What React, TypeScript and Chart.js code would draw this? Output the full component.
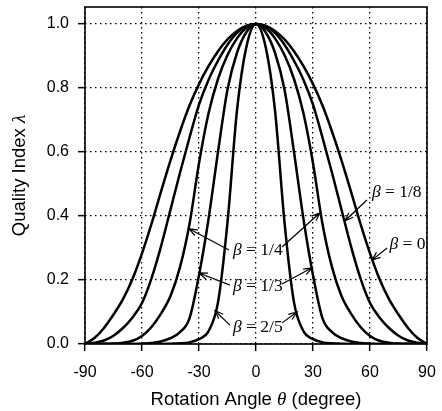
import React, { useEffect, useRef } from 'react';
import { Chart, registerables } from 'chart.js';

Chart.register(...registerables);

// Rotation angle θ (degree)
const theta = [
  -90, -85, -80, -75, -70, -65, -60, -55, -50, -45, -40, -35, -30, -25, -20, -15, -10, -5,
  0, 5, 10, 15, 20, 25, 30, 35, 40, 45, 50, 55, 60, 65, 70, 75, 80, 85, 90,
];

// Quality index λ for each β
const beta0 = [
  0, 0.019, 0.05, 0.092, 0.14, 0.203, 0.283, 0.375, 0.476, 0.574, 0.664, 0.745, 0.812, 0.868, 0.915, 0.952, 0.978, 0.995,
  1.0, 0.995, 0.978, 0.952, 0.915, 0.868, 0.812, 0.745, 0.664, 0.574, 0.476, 0.375, 0.283, 0.203, 0.14, 0.092, 0.05, 0.019, 0,
];
const beta1_8 = [
  0, 0.004, 0.011, 0.026, 0.05, 0.083, 0.128, 0.205, 0.305, 0.42, 0.535, 0.645, 0.748, 0.825, 0.885, 0.935, 0.972, 0.993,
  1.0, 0.993, 0.972, 0.935, 0.885, 0.825, 0.748, 0.645, 0.535, 0.42, 0.305, 0.205, 0.128, 0.083, 0.05, 0.026, 0.011, 0.004, 0,
];
const beta1_4 = [
  0, 0, 0.0005, 0.0015, 0.004, 0.01, 0.025, 0.053, 0.095, 0.15, 0.24, 0.375, 0.565, 0.72, 0.828, 0.903, 0.955, 0.988,
  1.0, 0.988, 0.955, 0.903, 0.828, 0.72, 0.565, 0.375, 0.24, 0.15, 0.095, 0.053, 0.025, 0.01, 0.004, 0.0015, 0.0005, 0, 0,
];
const beta1_3 = [
  0, 0, 0, 0, 0, 0, 0.001, 0.003, 0.008, 0.018, 0.037, 0.08, 0.215, 0.39, 0.6, 0.795, 0.91, 0.975,
  1.0, 0.975, 0.91, 0.795, 0.6, 0.39, 0.215, 0.08, 0.037, 0.018, 0.008, 0.003, 0.001, 0, 0, 0, 0, 0, 0,
];
const beta2_5 = [
  0, 0, 0, 0, 0, 0, 0, 0, 0, 0.001, 0.002, 0.005, 0.015, 0.04, 0.13, 0.38, 0.73, 0.93,
  1.0, 0.93, 0.73, 0.38, 0.13, 0.04, 0.015, 0.005, 0.002, 0.001, 0, 0, 0, 0, 0, 0, 0, 0, 0,
];

const seriesNames = ['β = 0', 'β = 1/8', 'β = 1/4', 'β = 1/3', 'β = 2/5'];
const seriesValues = [beta0, beta1_8, beta1_4, beta1_3, beta2_5];

const xTicks = [-90, -60, -30, 0, 30, 60, 90];
const yTicks = [0, 0.2, 0.4, 0.6, 0.8, 1.0];

// Curve labels: text, anchor (θ, λ) and arrows [tailθ, tailλ, tipθ, tipλ]
const curveLabels = [
  { text: '1/8', at: [61, 0.475], arrows: [[58.4, 0.45, 46.8, 0.385]] },
  { text: '0', at: [70.2, 0.31], arrows: [[69, 0.3, 61, 0.262]] },
  { text: '1/4', at: [-12.1, 0.294], arrows: [[13.7, 0.303, 33.7, 0.41], [-14.2, 0.294, -35.3, 0.36]] },
  { text: '1/3', at: [-12.1, 0.181], arrows: [[13.7, 0.1875, 29.5, 0.238], [-13.7, 0.184, -30, 0.222]] },
  { text: '2/5', at: [-12.1, 0.053], arrows: [[13.7, 0.066, 21.6, 0.1], [-13.7, 0.059, -21.6, 0.104]] },
];

const SANS = "'Liberation Sans', Arial, Helvetica, sans-serif";
const SERIF = "'Liberation Serif', 'Times New Roman', serif";

function drawArrow(ctx: CanvasRenderingContext2D, x1: number, y1: number, x2: number, y2: number) {
  const ang = Math.atan2(y2 - y1, x2 - x1);
  const hl = 9;
  const ha = 0.36;
  ctx.beginPath();
  ctx.moveTo(x1, y1);
  ctx.lineTo(x2, y2);
  ctx.moveTo(x2 - hl * Math.cos(ang - ha), y2 - hl * Math.sin(ang - ha));
  ctx.lineTo(x2, y2);
  ctx.lineTo(x2 - hl * Math.cos(ang + ha), y2 - hl * Math.sin(ang + ha));
  ctx.stroke();
}

const decorPlugin = {
  id: 'decor',
  afterDatasetsDraw(chart: any) {
    const { ctx, chartArea, scales } = chart;
    const xs = scales.x;
    const ys = scales.y;
    ctx.save();
    // frame
    ctx.strokeStyle = '#000';
    ctx.lineWidth = 1.6;
    ctx.setLineDash([]);
    ctx.strokeRect(chartArea.left, chartArea.top, chartArea.right - chartArea.left, chartArea.bottom - chartArea.top);

    // curve labels and arrows
    ctx.lineWidth = 1.2;
    ctx.fillStyle = '#000';
    ctx.textBaseline = 'middle';
    ctx.textAlign = 'left';
    for (const lab of curveLabels) {
      const px = xs.getPixelForValue(lab.at[0]);
      const py = ys.getPixelForValue(lab.at[1]);
      ctx.font = `italic 17.5px ${SERIF}`;
      ctx.fillText('β', px, py);
      const bw = ctx.measureText('β').width;
      ctx.font = `17.5px ${SERIF}`;
      ctx.fillText(' = ' + lab.text, px + bw, py);
      for (const a of lab.arrows) {
        drawArrow(
          ctx,
          xs.getPixelForValue(a[0]),
          ys.getPixelForValue(a[1]),
          xs.getPixelForValue(a[2]),
          ys.getPixelForValue(a[3])
        );
      }
    }

    // x title
    const xParts: [string, string][] = [
      ['Rotation Angle ', `18.5px ${SANS}`],
      ['θ', `italic 19px ${SERIF}`],
      [' (degree)', `18.5px ${SANS}`],
    ];
    let total = 0;
    for (const [t, f] of xParts) {
      ctx.font = f;
      total += ctx.measureText(t).width;
    }
    let cx = (chartArea.left + chartArea.right) / 2 - total / 2;
    ctx.textBaseline = 'alphabetic';
    for (const [t, f] of xParts) {
      ctx.font = f;
      ctx.fillText(t, cx, chartArea.bottom + 61);
      cx += ctx.measureText(t).width;
    }

    // y title
    const yParts: [string, string][] = [
      ['Quality Index ', `18.5px ${SANS}`],
      ['λ', `italic 19px ${SERIF}`],
    ];
    total = 0;
    for (const [t, f] of yParts) {
      ctx.font = f;
      total += ctx.measureText(t).width;
    }
    ctx.translate(25, (chartArea.top + chartArea.bottom) / 2);
    ctx.rotate(-Math.PI / 2);
    let cy = -total / 2;
    for (const [t, f] of yParts) {
      ctx.font = f;
      ctx.fillText(t, cy, 0);
      cy += ctx.measureText(t).width;
    }
    ctx.restore();
  },
};

export default function App() {
  const canvasRef = useRef<HTMLCanvasElement | null>(null);

  useEffect(() => {
    const canvas = canvasRef.current;
    if (!canvas) return;
    const datasets = seriesValues.map((vals, i) => ({
      label: seriesNames[i],
      data: theta.map((t, j) => ({ x: t, y: vals[j] })),
      borderColor: '#000',
      backgroundColor: '#000',
      borderWidth: 2.5,
      pointRadius: 0,
      fill: false,
      cubicInterpolationMode: 'monotone' as const,
    }));

    const chart = new Chart(canvas, {
      type: 'line',
      data: { datasets },
      options: {
        animation: false,
        responsive: true,
        maintainAspectRatio: false,
        layout: { padding: { top: 7, right: 15, left: 0, bottom: 0 } },
        plugins: {
          legend: { display: false },
          tooltip: { enabled: false },
        },
        scales: {
          x: {
            type: 'linear',
            min: -90,
            max: 90,
            afterBuildTicks: (scale: any) => {
              scale.ticks = xTicks.map((v) => ({ value: v }));
            },
            afterFit: (scale: any) => {
              scale.height = 67;
              scale.paddingLeft = 0;
              scale.paddingRight = 0;
            },
            ticks: {
              color: '#000',
              font: { family: SANS, size: 16 },
              padding: 12,
              maxRotation: 0,
              callback: (v: any) => String(v),
            },
            grid: {
              color: '#000',
              lineWidth: 1.3,
              tickLength: 7,
              tickColor: '#000',
              tickWidth: 1.5,
              tickBorderDash: [],
            },
            border: { display: false, dash: [1.5, 3.5] },
          },
          y: {
            type: 'linear',
            min: 0,
            max: 1.053,
            afterBuildTicks: (scale: any) => {
              scale.ticks = yTicks.map((v) => ({ value: v }));
            },
            afterFit: (scale: any) => {
              scale.width = 85;
              scale.paddingTop = 0;
              scale.paddingBottom = 0;
            },
            ticks: {
              color: '#000',
              font: { family: SANS, size: 16 },
              padding: 9,
              callback: (v: any) => Number(v).toFixed(1),
            },
            grid: {
              color: '#000',
              lineWidth: 1.3,
              tickLength: 7,
              tickColor: '#000',
              tickWidth: 1.5,
              tickBorderDash: [],
            },
            border: { display: false, dash: [1.5, 3.5] },
          },
        },
      },
      plugins: [decorPlugin],
    });
    return () => chart.destroy();
  }, []);

  return (
    <div
      style={{
        position: 'fixed',
        left: 0,
        top: 0,
        width: 442,
        height: 411,
        background: '#fff',
      }}
    >
      <canvas ref={canvasRef} />
    </div>
  );
}
